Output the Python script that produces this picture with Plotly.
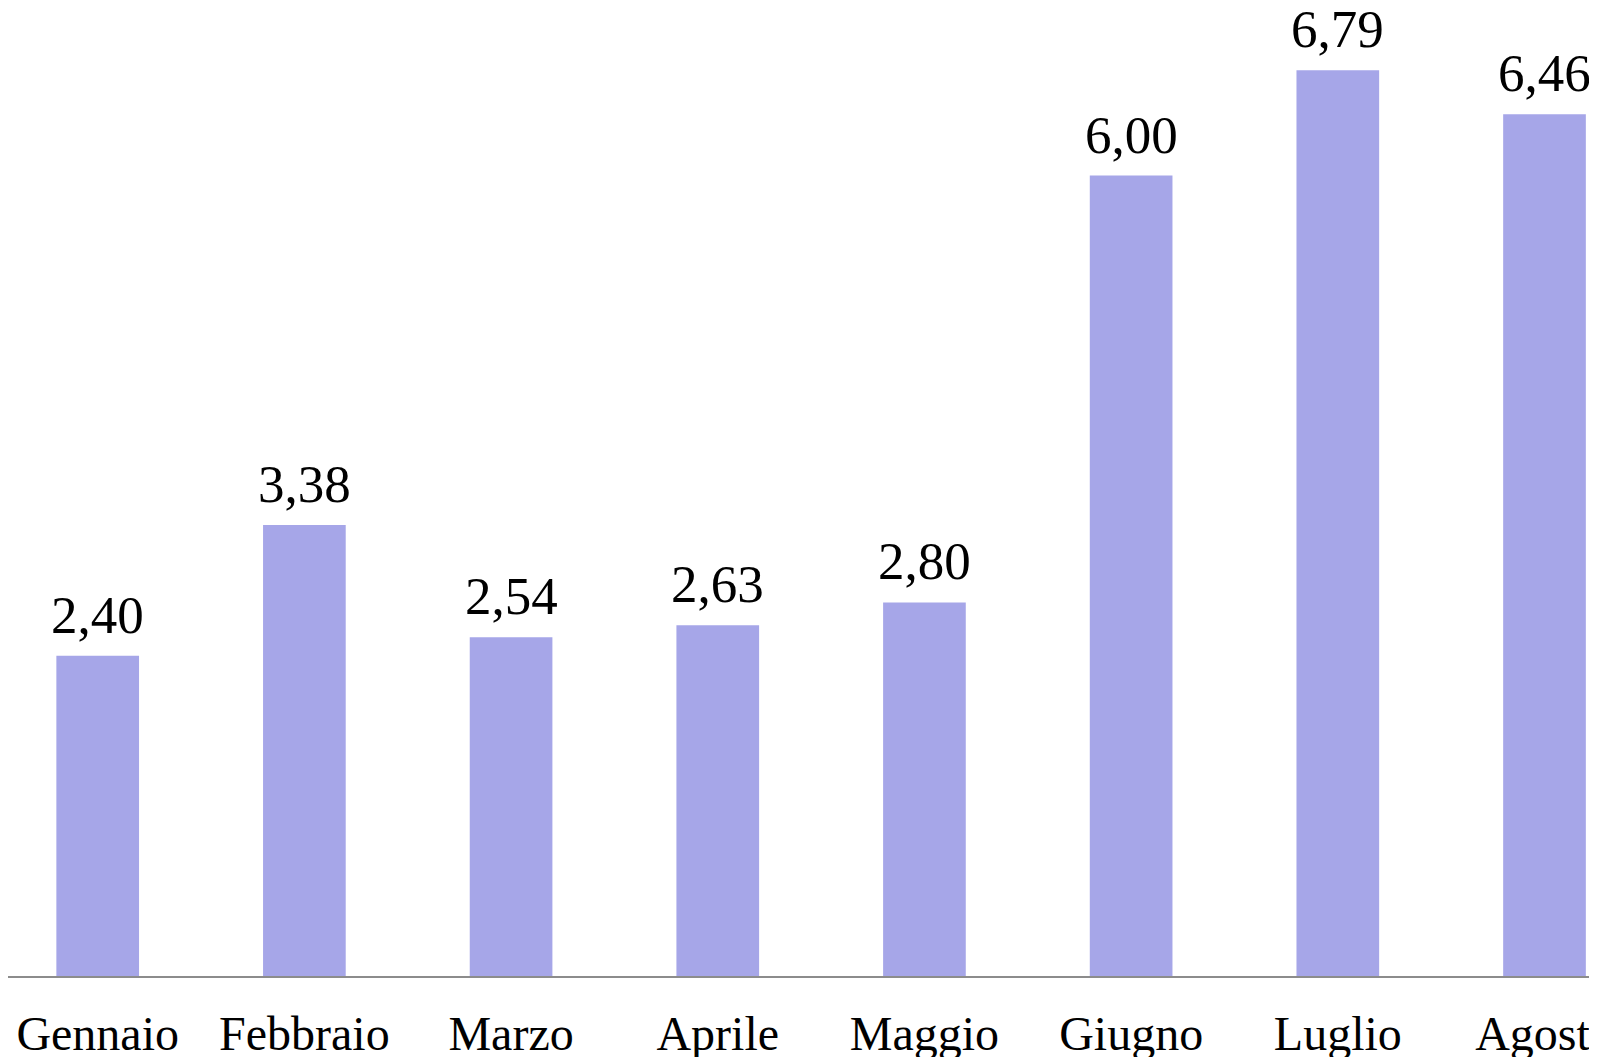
import plotly.graph_objects as go

# mesi e valori
mesi = ["Gennaio", "Febbraio", "Marzo", "Aprile", "Maggio", "Giugno", "Luglio", "Agosto"]
valori = [2.40, 3.38, 2.54, 2.63, 2.80, 6.00, 6.79, 6.46]

fig = go.Figure(
    go.Bar(
        x=mesi,
        y=valori,
        marker=dict(color="#A6A6E8", line=dict(width=0)),
        cliponaxis=False,
    )
)

# etichette dei valori sopra le barre
for m, v in zip(mesi, valori):
    fig.add_annotation(
        x=m, y=v,
        text=f"{v:.2f}".replace(".", ","),
        showarrow=False,
        yanchor="bottom",
        yshift=10,
        font=dict(family="Liberation Serif", size=53, color="black"),
    )

# la pagina ha 8px di margine nel body
fig.update_layout(
    width=1589,
    height=1049,
    margin=dict(l=0, r=0, t=0, b=81, pad=0, autoexpand=False),
    plot_bgcolor="white",
    paper_bgcolor="white",
    bargap=0.6,
    showlegend=False,
    font=dict(family="Liberation Serif", size=50, color="black"),
)
fig.update_xaxes(
    range=[-0.434, 7.254],
    automargin=False,
    showline=True,
    linecolor="#8c8c8c",
    linewidth=2,
    ticks="",
    showgrid=False,
    ticklabelstandoff=14,
    tickfont=dict(family="Liberation Serif", size=48, color="black"),
)
fig.update_yaxes(visible=False, range=[0, 7.256], automargin=False)

fig.write_html("out.html")
